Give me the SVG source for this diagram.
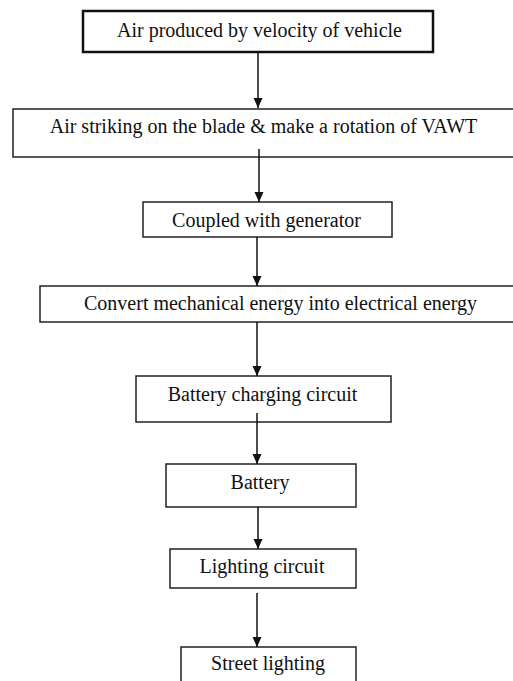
<svg xmlns="http://www.w3.org/2000/svg" width="513" height="681" viewBox="0 0 513 681">
<style>
.box{fill:#fff;stroke:#222;stroke-width:1.5}
.thick{stroke-width:2.5;stroke:#111}
.t{font-family:"Liberation Serif","Times New Roman",serif;font-size:20px;fill:#111;text-anchor:middle}
.c{stroke:#111;stroke-width:1.5;fill:none;marker-end:url(#ah)}
</style>
<defs>
<marker id="ah" viewBox="0 0 10 10" refX="10" refY="5" markerWidth="10" markerHeight="10" markerUnits="userSpaceOnUse" orient="auto">
<path d="M0,0.5 L10,5 L0,9.5 Z" fill="#111"/>
</marker>
</defs>
<rect width="513" height="681" fill="#fff"/>
<g id="n1"><rect class="box thick" x="83" y="11" width="350" height="41"/><text class="t" x="259.5" y="37">Air produced by velocity of vehicle</text></g>
<g id="n2"><rect class="box" x="13" y="109" width="510" height="48"/><text class="t" x="263.5" y="133">Air striking on the blade &amp; make a rotation of VAWT</text></g>
<g id="n3"><rect class="box" x="143" y="202" width="249" height="35"/><text class="t" x="266.5" y="227">Coupled with generator</text></g>
<g id="n4"><rect class="box" x="40" y="286" width="480" height="36"/><text class="t" x="280.5" y="310">Convert mechanical energy into electrical energy</text></g>
<g id="n5"><rect class="box" x="136" y="376" width="255" height="46"/><text class="t" x="262.5" y="401">Battery charging circuit</text></g>
<g id="n6"><rect class="box" x="166" y="464" width="190" height="43"/><text class="t" x="260" y="489">Battery</text></g>
<g id="n7"><rect class="box" x="170" y="549" width="186" height="39"/><text class="t" x="262" y="573">Lighting circuit</text></g>
<g id="n8"><rect class="box" x="181" y="647" width="175" height="50"/><text class="t" x="268" y="670">Street lighting</text></g>
<g id="connectors">
<line class="c" x1="258" y1="52" x2="258" y2="108"/>
<line class="c" x1="259" y1="149" x2="259" y2="202"/>
<line class="c" x1="257" y1="237" x2="257" y2="286"/>
<line class="c" x1="257" y1="322" x2="257" y2="376"/>
<line class="c" x1="257" y1="413" x2="257" y2="464"/>
<line class="c" x1="258" y1="507" x2="258" y2="549"/>
<line class="c" x1="257" y1="593" x2="257" y2="647"/>
</g>
</svg>
